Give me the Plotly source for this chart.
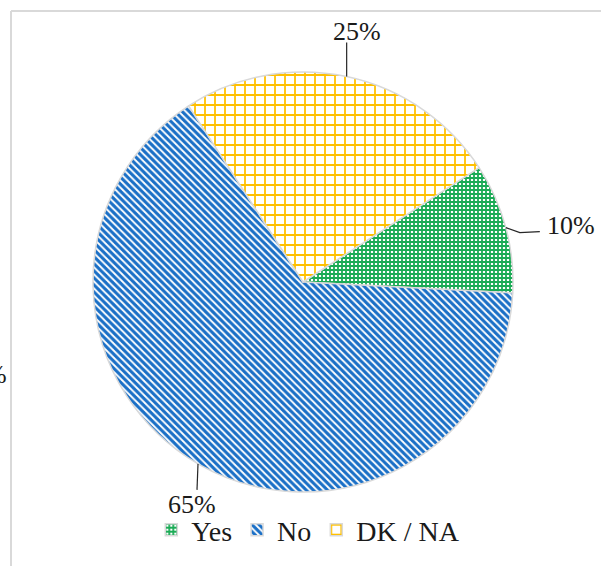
import math
import plotly.graph_objects as go

labels = ["Yes", "No", "DK / NA"]
values = [10, 65, 25]
pct_text = ["10%", "65%", "25%"]
colors = ["#1aab55", "#1a6fc6", "#ffc000"]
pattern_shapes = ["+", "\\", "+"]
pattern_sizes = [4, 5, 10]
pattern_solidity = [0.7, 0.62, 0.32]

W, H = 601, 566
cx, cy, R = 303, 282, 210
rotation = 57
FONT = "Liberation Serif, Times New Roman, serif"

# label styling: leader line points (offsets from slice mid point) and text offset / anchor
label_style = {
    "Yes": dict(line=[(14, 5), (34, 4)], text=(39, -2), anchor="left"),
    "No": dict(line=[(-1, 26)], text=(-6, 41), anchor="center"),
    "DK / NA": dict(line=[(0, -34)], text=(10, -45), anchor="center"),
}


def px(x, y):
    return x / W, 1 - y / H


fig = go.Figure(
    go.Pie(
        labels=labels,
        values=values,
        sort=False,
        direction="clockwise",
        rotation=rotation,
        textinfo="none",
        hoverinfo="skip",
        marker=dict(
            colors=colors,
            pattern=dict(
                shape=pattern_shapes,
                fgcolor=colors,
                bgcolor="white",
                size=pattern_sizes,
                solidity=pattern_solidity,
            ),
            line=dict(color="#d9d9d9", width=1.5),
        ),
        domain=dict(
            x=[(cx - R) / W, (cx + R) / W],
            y=[(H - cy - R) / H, (H - cy + R) / H],
        ),
    )
)

annotations = []
shapes = []
total = sum(values)
start = rotation
for lab, val, txt in zip(labels, values, pct_text):
    span = val / total * 360
    mid = math.radians(start + span / 2)
    start += span
    x0 = cx + R * math.sin(mid)
    y0 = cy - R * math.cos(mid)
    st = label_style[lab]
    pts = [(x0, y0)] + [(x0 + dx, y0 + dy) for dx, dy in st["line"]]
    path = "M " + " L ".join(f"{px(x, y)[0]},{px(x, y)[1]}" for x, y in pts)
    shapes.append(dict(type="path", xref="paper", yref="paper", path=path,
                       line=dict(color="#262626", width=1.2)))
    tx, ty = px(x0 + st["text"][0], y0 + st["text"][1])
    annotations.append(dict(x=tx, y=ty, xref="paper", yref="paper", text=txt,
                            showarrow=False, xanchor=st["anchor"], yanchor="middle",
                            font=dict(family=FONT, size=26, color="#1a1a1a")))

# clipped neighbouring label at the left edge (cut off in the reference too)
annotations.append(dict(x=9 / W, y=1 - 374 / H, xref="paper", yref="paper", text="0%",
                        showarrow=False, xanchor="right", yanchor="middle",
                        font=dict(family=FONT, size=26, color="#1a1a1a")))

# frame lines (chart area border)
shapes.append(dict(type="line", xref="paper", yref="paper", x0=11 / W, x1=11 / W,
                   y0=0, y1=1 - 11 / H, line=dict(color="#d9d9d9", width=2), layer="below"))
shapes.append(dict(type="line", xref="paper", yref="paper", x0=11 / W, x1=1,
                   y0=1 - 11 / H, y1=1 - 11 / H, line=dict(color="#d9d9d9", width=2), layer="below"))

fig.update_layout(
    width=W,
    height=H,
    margin=dict(l=0, r=0, t=0, b=0),
    paper_bgcolor="white",
    plot_bgcolor="white",
    font=dict(family=FONT, color="#1a1a1a"),
    showlegend=True,
    legend=dict(
        orientation="h",
        x=0.513,
        xanchor="center",
        y=1 - 530 / H,
        yanchor="middle",
        font=dict(family=FONT, size=28, color="#1a1a1a"),
        itemwidth=30,
        bgcolor="rgba(0,0,0,0)",
    ),
    annotations=annotations,
    shapes=shapes,
)

fig.write_html("out.html")
